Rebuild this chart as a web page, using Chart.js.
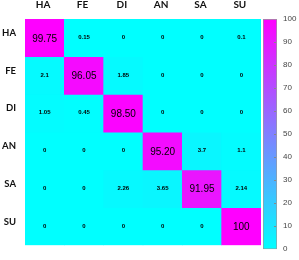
<!DOCTYPE html>
<html>
<head>
<meta charset="utf-8">
<script src="https://cdn.jsdelivr.net/npm/chart.js@4.4.1/dist/chart.umd.min.js"></script>
<style>
  html, body { margin: 0; padding: 0; background: #fff; }
  #wrap { position: relative; width: 299px; height: 260px; }
  #main { position: absolute; left: 0; top: 0; }
  #bar { position: absolute; left: 240px; top: 0; }
</style>
</head>
<body>
<div id="wrap">
  <canvas id="main" width="299" height="260"></canvas>
  <canvas id="bar" width="59" height="260"></canvas>
</div>
<script>
// Categories (true classes = rows, predicted classes = columns)
const categories = ['HA', 'FE', 'DI', 'AN', 'SA', 'SU'];

// Confusion matrix rows (%)
const rowHA = [99.75, 0.15, 0, 0, 0, 0.1];
const rowFE = [2.1, 96.05, 1.85, 0, 0, 0];
const rowDI = [1.05, 0.45, 98.50, 0, 0, 0];
const rowAN = [0, 0, 0, 95.20, 3.7, 1.1];
const rowSA = [0, 0, 2.26, 3.65, 91.95, 2.14];
const rowSU = [0, 0, 0, 0, 0, 100];
const rows = [rowHA, rowFE, rowDI, rowAN, rowSA, rowSU];

// Colour bar scale
const cbarMin = 0;
const cbarMax = 100;
const cbarStep = 10;

function coolColor(v) {
  const t = Math.max(0, Math.min(1, (v - cbarMin) / (cbarMax - cbarMin)));
  const r = Math.round(255 * t);
  const g = Math.round(255 * (1 - t));
  return `rgb(${r},${g},255)`;
}

function fmt(v, i, j) {
  if (i === j) return v === 100 ? '100' : v.toFixed(2);
  return String(v);
}

const datasets = rows.map((row, i) => ({
  label: categories[i],
  data: row.map((v, j) => ({ x: categories[j], y: [i, i + 1] })),
  backgroundColor: row.map(v => coolColor(v)),
  borderWidth: 0,
  grouped: false,
  barPercentage: 1,
  categoryPercentage: 1
}));

const cellText = {
  id: 'cellText',
  afterDatasetsDraw(chart) {
    const ctx = chart.ctx;
    ctx.save();
    ctx.textAlign = 'center';
    ctx.textBaseline = 'middle';
    chart.data.datasets.forEach((ds, i) => {
      const meta = chart.getDatasetMeta(i);
      meta.data.forEach((el, j) => {
        const v = rows[i][j];
        const diag = i === j;
        const cx = el.x;
        const cy = (el.y + el.base) / 2;
        ctx.fillStyle = '#000';
        ctx.font = diag ? '10px "Liberation Sans", Arial, sans-serif' : 'bold 6px "Liberation Sans", Arial, sans-serif';
        ctx.fillText(fmt(v, i, j), cx, cy + (diag ? 1 : -0.5));
      });
    });
    ctx.restore();
  }
};

new Chart(document.getElementById('main'), {
  type: 'bar',
  data: { labels: categories, datasets },
  plugins: [cellText],
  options: {
    responsive: false,
    animation: false,
    events: [],
    layout: { padding: { left: 0, top: 0, right: 38, bottom: 6 } },
    plugins: { legend: { display: false }, tooltip: { enabled: false } },
    scales: {
      x: {
        type: 'category',
        position: 'top',
        offset: true,
        grid: { display: false, drawTicks: false },
        border: { display: false },
        ticks: {
          color: '#111',
          padding: 8,
          labelOffset: -1.5,
          font: { family: 'Lato', weight: 'bold', size: 10 }
        },
        afterFit(scale) { scale.height = 19; }
      },
      y: {
        type: 'linear',
        min: 0,
        max: categories.length,
        reverse: true,
        grid: { display: false, drawTicks: false },
        border: { display: false },
        afterBuildTicks(scale) {
          scale.ticks = categories.map((c, i) => ({ value: i + 0.5 }));
        },
        ticks: {
          color: '#111',
          padding: 9,
          labelOffset: -5,
          font: { family: 'Lato', weight: 'bold', size: 9.5 },
          callback: (v) => categories[Math.floor(v)]
        },
        afterFit(scale) { scale.width = 25; }
      }
    }
  }
});

const cbarTicks = {
  id: 'cbarTicks',
  afterDatasetsDraw(chart) {
    const ctx = chart.ctx;
    const y = chart.scales.y;
    const right = chart.chartArea.right;
    ctx.save();
    ctx.strokeStyle = '#888';
    ctx.lineWidth = 1;
    y.ticks.forEach(t => {
      const py = Math.round(y.getPixelForValue(t.value)) + 0.5;
      if (t.value === cbarMin || t.value === cbarMax) return;
      ctx.beginPath();
      ctx.moveTo(right - 3, py);
      ctx.lineTo(right - 1, py);
      ctx.stroke();
    });
    ctx.restore();
  }
};

new Chart(document.getElementById('bar'), {
  type: 'bar',
  data: {
    labels: ['scale'],
    datasets: [{
      data: [[cbarMin, cbarMax]],
      backgroundColor(ctx) {
        const area = ctx.chart.chartArea;
        if (!area) return 'rgb(128,127,255)';
        const g = ctx.chart.ctx.createLinearGradient(0, area.bottom, 0, area.top);
        g.addColorStop(0, coolColor(cbarMin));
        g.addColorStop(0.5, coolColor((cbarMin + cbarMax) / 2));
        g.addColorStop(1, coolColor(cbarMax));
        return g;
      },
      borderColor: '#9a9a9a',
      borderWidth: 1,
      borderSkipped: false,
      barPercentage: 1,
      categoryPercentage: 1
    }]
  },
  plugins: [cbarTicks],
  options: {
    responsive: false,
    animation: false,
    events: [],
    layout: { padding: { left: 23, top: 19, right: 0, bottom: 6 } },
    plugins: { legend: { display: false }, tooltip: { enabled: false } },
    scales: {
      x: { display: false },
      y: {
        position: 'right',
        min: cbarMin,
        max: cbarMax,
        grid: { display: false, drawTicks: false },
        border: { display: false },
        ticks: {
          stepSize: cbarStep,
          padding: 6,
          color: '#444',
          font: { family: '"Liberation Sans", Arial, sans-serif', size: 8 }
        },
        afterFit(scale) { scale.width = 22; }
      }
    }
  }
});
</script>
</body>
</html>
